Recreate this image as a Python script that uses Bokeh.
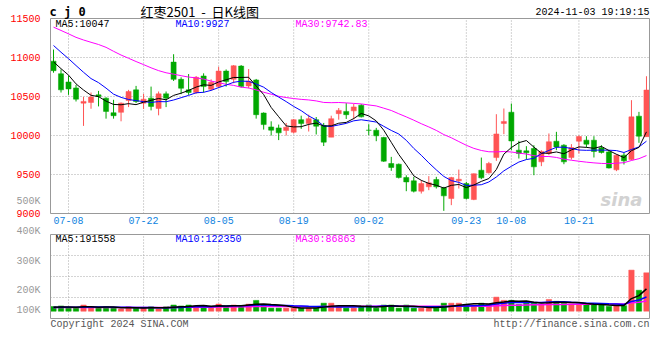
import numpy as np
import pandas as pd
from bokeh.plotting import figure
from bokeh.models import Range1d, FixedTicker, Label, LinearAxis
from bokeh.embed import file_html
from bokeh.resources import INLINE

# ---------------- data ----------------
holidays = ["2024-09-16", "2024-09-17", "2024-10-01", "2024-10-02",
            "2024-10-03", "2024-10-04", "2024-10-07"]
dates = [d.strftime("%m-%d") for d in pd.bdate_range("2024-07-04", "2024-11-01")
         if d.strftime("%Y-%m-%d") not in holidays]

tick_dates = ["07-08", "07-22", "08-05", "08-19", "09-02", "09-23", "10-08", "10-21"]
price_ticks = [9000, 9500, 10000, 10500, 11000, 11500]
vol_tick_labels = ["100K", "200K", "300K", "400K", "500K"]

open_ = [10953, 10792, 10686, 10610, 10415, 10424, 10521, 10479, 10292, 10297,
         10449, 10585, 10415, 10479, 10347, 10534, 10941, 10720, 10585, 10551,
         10763, 10593, 10627, 10826, 10720, 10890, 10636, 10712, 10288, 10110,
         10097, 10064, 10042, 10203, 10153, 10203, 10127, 9979, 10280, 10309,
         10316, 10389, 10068, 10068, 9974, 9641, 9632, 9461, 9419, 9286,
         9342, 9435, 9329, 9192, 9419, 9384, 9179, 9555, 9521, 9717,
         10154, 10299, 9812, 9803, 9833, 9662, 9769, 9927, 9876, 9717,
         9927, 9940, 9940, 9842, 9790, 9560, 9748, 9692, 10248, 9985]
high = [11102, 10847, 10763, 10648, 10495, 10551, 10572, 10490, 10458, 10424,
        10585, 10636, 10534, 10627, 10564, 10564, 11042, 10746, 10788, 10763,
        10797, 10720, 10881, 10847, 10903, 10903, 10852, 10725, 10297, 10182,
        10140, 10161, 10212, 10254, 10267, 10237, 10161, 10254, 10352, 10415,
        10405, 10402, 10145, 10098, 9983, 9726, 9641, 9490, 9470, 9427,
        9479, 9470, 9342, 9470, 9563, 9406, 9513, 9717, 9662, 10273,
        10346, 10410, 9932, 9863, 9876, 9812, 10026, 10047, 9889, 9889,
        10000, 9991, 9991, 9876, 9803, 9760, 9778, 10453, 10303, 10760]
low = [10805, 10551, 10521, 10436, 10123, 10343, 10373, 10216, 10216, 10182,
       10364, 10415, 10339, 10322, 10259, 10364, 10699, 10530, 10521, 10534,
       10551, 10576, 10606, 10627, 10670, 10614, 10606, 10216, 10076, 10000,
       9941, 10000, 10025, 10085, 10051, 10013, 9865, 9979, 10203, 10212,
       10208, 10231, 10004, 9927, 9662, 9547, 9449, 9286, 9270, 9256,
       9299, 9320, 9034, 9107, 9320, 9179, 9171, 9440, 9513, 9675,
       10017, 9812, 9705, 9692, 9491, 9607, 9748, 9812, 9632, 9692,
       9769, 9846, 9718, 9769, 9577, 9543, 9628, 9683, 9906, 9985]
close = [10831, 10585, 10597, 10466, 10437, 10492, 10500, 10309, 10254, 10415,
         10564, 10436, 10466, 10373, 10534, 10479, 10720, 10606, 10551, 10746,
         10627, 10682, 10826, 10691, 10894, 10627, 10695, 10267, 10140, 10068,
         10034, 10106, 10203, 10153, 10216, 10119, 9915, 10216, 10322, 10267,
         10366, 10239, 10066, 9996, 9671, 9590, 9461, 9405, 9286, 9384,
         9393, 9342, 9226, 9460, 9439, 9192, 9510, 9457, 9641, 10020,
         10180, 9930, 9769, 9778, 9598, 9796, 9920, 9854, 9662, 9846,
         9987, 9889, 9795, 9782, 9583, 9748, 9675, 10239, 9991, 10583]
volume = [39800, 45200, 26600, 26600, 53100, 37200, 26600, 37200, 26600, 18600,
          37200, 26600, 26600, 37200, 18600, 37200, 53100, 45200, 53100, 45200,
          45200, 26600, 61100, 45200, 53100, 45200, 61100, 93000, 58400, 26600,
          26600, 26600, 26600, 26600, 26600, 26600, 69000, 69000, 45200, 26600,
          26600, 45200, 53100, 26600, 53100, 53100, 26600, 53100, 26600, 26600,
          26600, 26600, 69000, 69000, 69000, 58400, 53100, 69000, 61100, 121090,
          93000, 93000, 58400, 69000, 69000, 61100, 100900, 85000, 69000, 61100,
          62000, 54000, 54000, 54000, 41710, 46210, 47580, 353400, 180200, 330400]

# closes / volumes of the 29 sessions before the first candle (estimated from
# where the moving-average lines start at the left edge)
prior_close = [11850, 11900, 11820, 11450, 11380, 11350, 11400, 11780, 11850, 11800,
               11700, 11650, 11600, 11620, 11300, 11250, 11200, 11080, 11050, 11100,
               11450, 11420, 11350, 11300, 11300, 11020, 11010, 11030, 10830]
prior_volume = [32000, 28000, 35000, 30000, 27000, 33000, 29000, 31000, 36000, 30000,
                28000, 26000, 34000, 30000, 29000, 31000, 27000, 33000, 30000, 28000,
                32000, 29000, 31000, 35000, 30000, 27000, 33000, 36000, 30000]

# ---------------- derived ----------------
n = len(dates)
idx = np.arange(n)
full_c = np.array(prior_close + close, dtype=float)
full_v = np.array(prior_volume + volume, dtype=float)
off = len(prior_close)


def mavg(arr, k):
    return np.array([arr[off + i - k + 1: off + i + 1].mean() for i in range(n)])


ma5, ma10, ma30 = mavg(full_c, 5), mavg(full_c, 10), mavg(full_c, 30)
vma5, vma10, vma30 = mavg(full_v, 5), mavg(full_v, 10), mavg(full_v, 30)

o = np.array(open_, float)
c = np.array(close, float)
RED, GREEN = "#FF5454", "#00A800"
col = [RED if cc >= oo else GREEN for oo, cc in zip(o, c)]
tick_idx = [dates.index(t) for t in tick_dates]

MONO = "Liberation Mono"
GRID = "#A8A8A8"
BORDER = "#999999"
LABEL_GREY = "#999999"

# ---------------- page geometry (pixels) ----------------
W, H = 659, 344
X0, DX = 53.0, 7.506            # centre of first candle, px per session
P_BOT, P_PX = 213.0, 0.078      # price 9000 sits at y=213, px per price unit
V_BASE, V_UNIT = 310.7, 8600.0  # zero volume at y=310.7, volume per px
PANEL_L, PANEL_R = 50.0, 649.0
V_TOP, V_BOTTOM = 234.0, 318.0


def xd(px):
    return (px - X0) / DX


def yp(py):
    return price_ticks[0] + (P_BOT - py) / P_PX


def yv(py):
    return (V_BASE - py) * V_UNIT


p = figure(width=W, height=H, x_range=Range1d(xd(0), xd(W)),
           y_range=Range1d(yp(H), yp(0)), x_axis_type=None, y_axis_type=None,
           output_backend="svg", toolbar_location=None, min_border=0)
p.outline_line_color = None
p.extra_y_ranges = {"vol": Range1d(yv(H), yv(0))}

xl, xr_ = xd(PANEL_L), xd(PANEL_R)
pb, pt = price_ticks[0], price_ticks[-1]
vb, vt = yv(V_BOTTOM), yv(V_TOP)

# ---- grid lines (dotted) ----
p.multi_line([[xl, xr_]] * 4, [[t, t] for t in price_ticks[1:-1]],
             line_color=GRID, line_dash="1 2", line_width=1)
p.multi_line([[i, i] for i in tick_idx], [[pb, pt]] * len(tick_idx),
             line_color=GRID, line_dash="1 2", line_width=1)
vgrid = [vb + (vt - vb) * k / 4 for k in (1, 2, 3)]
p.multi_line([[xl, xr_]] * 3, [[g, g] for g in vgrid], line_color=GRID,
             line_dash="1 2", line_width=1, y_range_name="vol")
p.multi_line([[i, i] for i in tick_idx], [[vb, vt]] * len(tick_idx),
             line_color=GRID, line_dash="1 2", line_width=1, y_range_name="vol")

# ---- candles ----
p.segment(x0=idx, y0=low, x1=idx, y1=high, color=col, line_width=1)
p.vbar(x=idx, width=0.68, top=np.maximum(o, c), bottom=np.minimum(o, c),
       fill_color=col, line_color=col, line_width=0.5)
p.line(idx, ma30, color="#FF00FF", line_width=1)
p.line(idx, ma10, color="#0000FF", line_width=1)
p.line(idx, ma5, color="black", line_width=1)

# ---- volume ----
p.vbar(x=idx, width=0.72, top=volume, bottom=0, fill_color=col, line_color=col,
       line_width=0.5, y_range_name="vol")
p.line(idx, vma30, color="#FF00FF", line_width=1.5, y_range_name="vol")
p.line(idx, vma10, color="#0000FF", line_width=1.5, y_range_name="vol")
p.line(idx, vma5, color="black", line_width=1.5, y_range_name="vol")


# ---- axes ----
def axis(side, loc, bounds=None, ticks=(), labels=None, color=BORDER,
         text_color="black", standoff=4, vol=False, line=True):
    kw = {}
    if bounds is not None:
        kw["bounds"] = bounds
    ax = LinearAxis(fixed_location=loc, ticker=FixedTicker(ticks=list(ticks)),
                    axis_line_color=color if line else None,
                    major_tick_line_color=None, minor_tick_line_color=None,
                    major_label_text_color=text_color,
                    major_label_text_font=MONO, major_label_text_font_size="10px",
                    major_label_standoff=standoff, **kw)
    if labels is not None:
        ax.major_label_overrides = labels
    if vol:
        ax.y_range_name = "vol"
    p.add_layout(ax, side)
    return ax


# price panel frame and tick labels
axis("left", xl, bounds=(pb, pt), ticks=price_ticks, text_color="#FF0000")
axis("below", pb, bounds=(xl, xr_), ticks=tick_idx,
     labels={i: d for i, d in zip(tick_idx, tick_dates)},
     text_color="#1083E0", standoff=-3)
axis("above", pt, bounds=(xl, xr_))
axis("right", xr_, bounds=(pb, pt))

# volume panel frame
axis("left", xl, bounds=(vb, vt), vol=True)
axis("below", vb, bounds=(xl, xr_), vol=True)
axis("above", vt, bounds=(xl, xr_), vol=True)
axis("right", xr_, bounds=(vb, vt), vol=True)
# volume scale labels, placed where Sina draws them
vol_label_y = [yv(310), yv(290), yv(261), yv(231), yv(200.7)]
axis("left", xl, ticks=vol_label_y, labels=dict(zip(vol_label_y, vol_tick_labels)),
     text_color=LABEL_GREY, vol=True, line=False)


def put(rx, ry, text, color="black", size="10px", font=MONO, align="left",
        style="normal"):
    p.add_layout(Label(x=rx, y=H - ry, x_units="screen", y_units="screen",
                       text=text, text_color=color, text_font_size=size,
                       text_font=font, text_align=align, text_baseline="middle",
                       text_font_style=style))


NB = "\u00a0"
put(49, 11, "c j 0", size="12px", font="DejaVu Sans Mono", style="bold")
put(140, 11, f"红枣2501{NB}{NB}-{NB}{NB}日K线图", size="13px", font="Noto Sans CJK SC")
put(649, 12, "2024-11-03 19:19:15", align="right")
put(55, 24, f"MA5:{ma5[-1]:.0f}", color="black")
put(175, 24, f"MA10:{ma10[-1]:.0f}", color="#0000FF")
put(295, 24, f"MA30:{ma30[-1]:.2f}", color="#FF00FF")
put(600, 199, "sina", color="#D2D2D2", size="18px", font="DejaVu Sans",
    style="bold italic")
put(55, 239, f"MA5:{vma5[-1]:.0f}", color="black")
put(175, 239, f"MA10:{vma10[-1]:.0f}", color="#0000FF")
put(295, 239, f"MA30:{vma30[-1]:.0f}", color="#FF00FF")
put(50, 324, "Copyright 2024 SINA.COM", color="#555555")
put(649, 324, "http://finance.sina.com.cn", color="#555555", align="right")

open("out.html", "w").write(file_html(p, INLINE))
